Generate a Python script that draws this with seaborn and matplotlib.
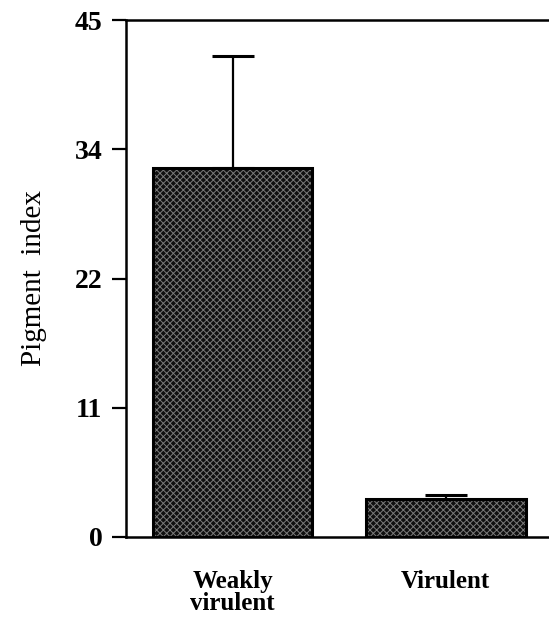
import matplotlib
matplotlib.use("Agg")
import matplotlib.pyplot as plt
import matplotlib.patches as mpatches
import seaborn as sns
import pandas as pd

# ---- data ----
categories = ["Weakly\nvirulent", "Virulent"]
values = [32.1, 3.3]
errors = [9.8, 0.35]
ytick_values = [0, 11.25, 22.5, 33.75, 45]
ytick_labels = ["0", "11", "22", "34", "45"]
ylabel = "Pigment  index"

sns.set_theme(style="white")
plt.rcParams["font.family"] = ["Liberation Serif", "DejaVu Serif"]
plt.rcParams["text.color"] = "black"
plt.rcParams["axes.labelcolor"] = "black"
plt.rcParams["xtick.color"] = "black"
plt.rcParams["ytick.color"] = "black"
plt.rcParams["hatch.linewidth"] = 0.7

fig = plt.figure(figsize=(5.49, 6.25), dpi=100)
ax = fig.add_axes([126 / 549, 1 - 537 / 625, (548 - 126) / 549, (537 - 20) / 625])

df = pd.DataFrame({"cat": categories, "val": values})
sns.barplot(data=df, x="cat", y="val", ax=ax, color="#101010", width=0.75,
            saturation=1, edgecolor="#7a7a7a", linewidth=0, hatch="xxxxx")

for p, e in zip(ax.patches, errors):
    p.set_facecolor("#101010")
    outline = mpatches.Rectangle(p.get_xy(), p.get_width(), p.get_height(),
                                 fill=False, edgecolor="black", linewidth=2.2, zorder=3)
    ax.add_patch(outline)
    cx = p.get_x() + p.get_width() / 2
    ax.errorbar([cx], [p.get_height()], yerr=[[0], [e]], fmt="none",
                ecolor="black", elinewidth=1.6, capsize=15, capthick=2.2, zorder=4)

ax.set_xlim(-0.5, 1.48)
ax.set_ylim(0, 45)
ax.set_yticks(ytick_values)
ax.set_yticklabels(ytick_labels, fontweight="bold")
ax.set_xlabel("")
ax.set_ylabel(ylabel, fontsize=21, labelpad=20)

ax.tick_params(axis="y", which="major", direction="out", length=10, width=1.6,
               labelsize=20, pad=7, left=True)
ax.tick_params(axis="x", which="major", length=0, labelsize=18, pad=24)
for lbl in ax.get_xticklabels():
    lbl.set_linespacing(0.95)
    lbl.set_fontweight("bold")

for side in ["left", "bottom", "top"]:
    ax.spines[side].set_visible(True)
    ax.spines[side].set_color("black")
    ax.spines[side].set_linewidth(1.8)
ax.spines["right"].set_visible(False)

fig.savefig("out.png", dpi=100)
